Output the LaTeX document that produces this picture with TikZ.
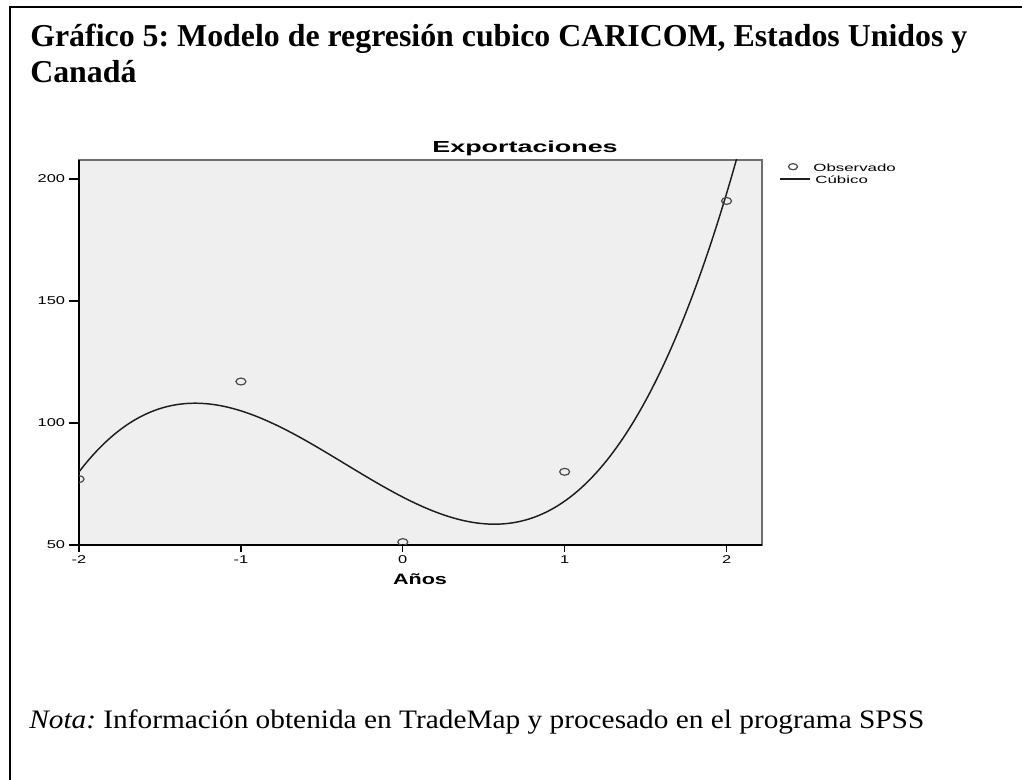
\documentclass[tikz,border=0pt]{standalone}
\usepackage{fontspec}
\setmainfont{Liberation Serif}
\setsansfont{Liberation Sans}
\frenchspacing

\definecolor{plotbg}{HTML}{EFEFEF}
\definecolor{framegray}{HTML}{6E6E6E}
\definecolor{markgray}{HTML}{4A4A4A}
\definecolor{curvecol}{HTML}{1E1E1E}

\tikzset{
    heading/.style={font=\bfseries\fontsize{23.9}{27}\selectfont, inner sep=0pt},
    notetext/.style={font=\fontsize{20}{23}\selectfont, xscale=1.1, inner sep=0pt},
    ticklabel/.style={font=\sffamily\fontsize{8.5}{9}\selectfont, xscale=1.45, inner sep=0pt},
    plottitle/.style={font=\sffamily\bfseries\fontsize{12}{14}\selectfont, xscale=1.68, inner sep=0pt},
    axistitle/.style={font=\sffamily\bfseries\fontsize{11.25}{13}\selectfont, xscale=1.44, inner sep=0pt},
    legendlabel/.style={font=\sffamily\fontsize{7.8}{9}\selectfont, xscale=1.62, inner sep=0pt},
    fitcurve/.style={curvecol, line width=1.1pt},
    obsmark/.style={markgray, line width=0.9pt}
}

\begin{document}
\begin{tikzpicture}[x=0.75pt, y=-0.75pt]

        \def\xl{79}
        \def\xr{762}
        \def\yt{160}
        \def\yb{545}

        \useasboundingbox (0,0) rectangle (1022,780);
        \draw [line width=1.5pt] (10,800) -- (10,7) -- (1040,7);

        \node [heading, anchor=base west] (headA) at (30,47) {Gráfico 5: Modelo de regresión cubico CARICOM, Estados Unidos y};
        \node [heading, anchor=base west] (headB) at (30,83) {Canadá};

        \fill [plotbg] (\xl,\yt) rectangle (\xr,\yb);
        \draw [framegray, line width=1pt] (\xl,\yt) rectangle (\xr,\yb);
        \draw [line width=1.1pt] (\xl,\yt) -- (\xl,\yb) -- (\xr,\yb);

        \foreach \v in {50,100,150,200} {
            \draw [line width=1pt] (\xl,{545-(\v-50)*2.44}) -- (69,{545-(\v-50)*2.44})
                node [ticklabel, anchor=east, xshift=-1.5pt] (ylab\v) {\v};
        }
        \foreach \v in {-2,...,2} {
            \draw [line width=1pt] ({402.8+\v*161.9},\yb) -- ({402.8+\v*161.9},552)
                node [ticklabel, anchor=north, yshift=-2pt] (xlab\v) {\v};
        }

        \begin{scope}
            \clip (\xl,\yt) rectangle (\xr,\yb);
            \begin{scope}[shift={(402.8,545)}, x=121.4pt, y=1.83pt]
                \draw [fitcurve, domain=-2.05:2.1, samples=150, smooth]
                    plot (\x, {69.634-34.167*\x+16.843*\x*\x+15.667*\x*\x*\x-50});
                \foreach \px/\py in {-2/77,-1/117,0/51.2,1/80,2/191}
                    \draw [obsmark] (\px,{\py-50}) ellipse [x radius=3.75pt, y radius=2.6pt];
            \end{scope}
        \end{scope}

        \node [plottitle, anchor=base west] (ptitle) at (432,153) {Exportaciones};
        \node [axistitle, anchor=base] (xtitle) at (420,585) {Años};

        \draw [obsmark] (793,166.7) ellipse [x radius=3.4pt, y radius=2.3pt];
        \node [legendlabel, anchor=base west] (legObs) at (813,171.7) {Observado};
        \draw [fitcurve] (780,179) -- (810,179);
        \node [legendlabel, anchor=base west] (legCub) at (815,184) {Cúbico};

        \node [notetext, anchor=base west] (nota) at (29,728) {\textit{Nota:} Información obtenida en TradeMap y procesado en el programa SPSS};

\end{tikzpicture}
\end{document}
